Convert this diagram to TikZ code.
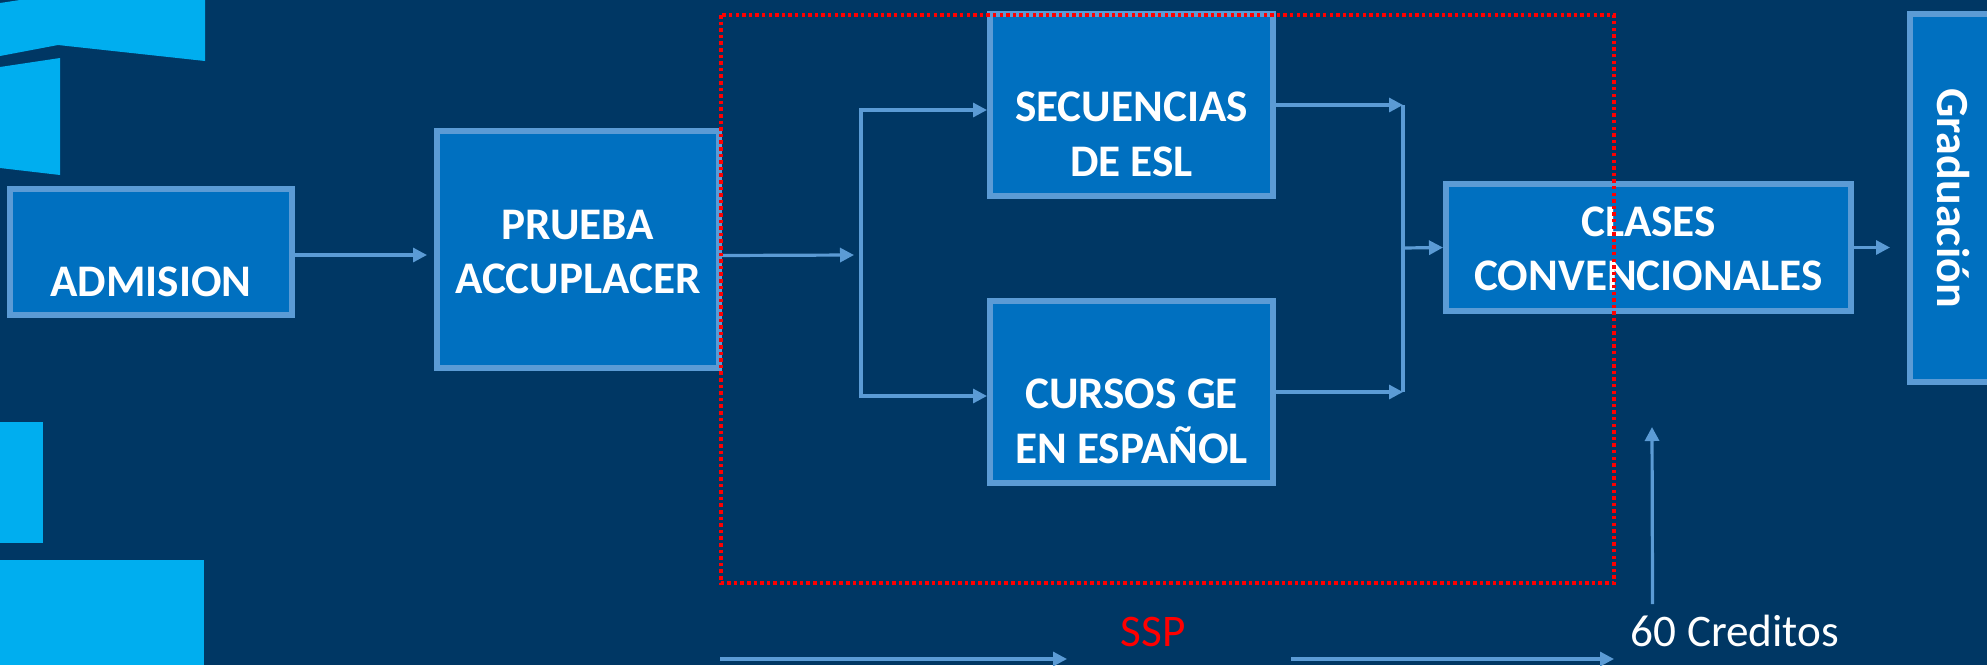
\documentclass[tikz,border=0pt]{standalone}
\usepackage{fontspec}
\setmainfont{Carlito}
\usetikzlibrary{arrows.meta,calc}
\definecolor{bgnavy}{HTML}{003764}
\definecolor{boxfill}{HTML}{0070C0}
\definecolor{boxline}{HTML}{5B9BD5}
\definecolor{cyanshape}{HTML}{00AEEF}
\newcommand{\oneline}[2]{\hbox to 0pt{\hss\raisebox{\dimexpr#1-0.5pt\relax}[0pt][0pt]{#2}\hss}}
\tikzset{
  x=0.5pt,y=-0.5pt,
  flowbox/.style={draw=boxline,fill=boxfill,line width=3pt,inner sep=0pt,text=white,
    font=\fontsize{22.6}{24}\selectfont\bfseries},
  conn/.style={draw=boxline,line width=1.6pt},
  tipped/.style={conn,-{Triangle[length=7pt,width=7pt]}},
  bothtip/.style={conn,{Triangle[length=7pt,width=7pt]}-{Triangle[length=7pt,width=7pt]}},
  caption/.style={inner sep=0pt,anchor=base,font=\fontsize{22.6}{24}\selectfont},
  deco/.style={fill=cyanshape,draw=none}
}
\begin{document}
\begin{tikzpicture}
\useasboundingbox (0,0) rectangle (1987,665);
\clip (0,0) rectangle (1987,665);
\fill[bgnavy] (0,0) rectangle (1987,665);
% left decorative shapes
\fill[deco] (0,3) -- (20,0) -- (205,0) -- (205,61) -- (58,45) -- (0,56) -- cycle;
\fill[deco] (0,67) -- (60,58) -- (60,175) -- (0,168) -- cycle;
\fill[deco] (0,422) rectangle (43,543);
\fill[deco] (0,560) rectangle (204,665);
% boxes
\node[flowbox,minimum width=141pt,minimum height=63pt] (admision) at (151,252) {\oneline{-21.5pt}{ADMISION}};
\node[flowbox,minimum width=141pt,minimum height=118.5pt] (prueba) at (578,249.5) {\oneline{5.75pt}{PRUEBA}\oneline{-21.25pt}{ACCUPLACER}};
\node[flowbox,minimum width=141.5pt,minimum height=91pt] (secuencias) at (1131.5,105) {\oneline{-7.5pt}{SECUENCIAS}\oneline{-35pt}{DE ESL}};
\node[flowbox,minimum width=141.5pt,minimum height=91pt] (cursos) at (1131.5,392) {\oneline{-7.5pt}{CURSOS GE}\oneline{-35pt}{EN ESPAÑOL}};
\node[flowbox,minimum width=202.5pt,minimum height=63.5pt] (clases) at (1648.5,247.5) {\oneline{6.25pt}{CLASES}\oneline{-20.75pt}{CONVENCIONALES}};
\node[flowbox,rotate=-90,minimum width=184pt,minimum height=45pt,font=\fontsize{23}{24}\selectfont\bfseries] (graduacion) at (1955,198) {\oneline{-8.5pt}{Graduación}};
% captions
\node[caption,text=red] (ssp) at (1153,646) {SSP};
\node[caption,text=white] (credits) at (1735,646) {60 Creditos};
% junction coordinates
\coordinate (split) at (861,255);
\coordinate (merge) at (1403,248);
\coordinate (creditup) at (1652,427);
\coordinate (sspa) at (720,659);
\coordinate (sspb) at (1067,659);
\coordinate (sspc) at (1291,659);
\coordinate (sspd) at (1614,659);
% connectors
\draw[tipped] ([yshift=-1.5pt]admision.east) -- ([xshift=-3.5pt,yshift=-2.75pt]prueba.west);
\draw[tipped] ([yshift=-3pt]prueba.east) -- ([xshift=-3.5pt]split);
\draw[bothtip] ([yshift=-2.5pt]secuencias.west) -- ([yshift=-2.5pt]secuencias.west -| split) -- ([yshift=-2pt]cursos.west -| split) -- ([yshift=-2pt]cursos.west);
\draw[tipped] (secuencias.east) -- (secuencias.east -| merge);
\draw[tipped] (cursos.east) -- (cursos.east -| merge);
\draw[conn] (secuencias.east -| merge) -- (cursos.east -| merge);
\draw[tipped] (merge) -- (clases.west);
\draw[tipped] (clases.east) -- ([xshift=18pt]clases.east);
\draw[tipped] ([xshift=11pt,yshift=5pt]credits.north west) -- (creditup);
\draw[tipped] (sspa) -- (sspb);
\draw[tipped] (sspc) -- (sspd);
% red dotted frame
\draw[red,line width=1.75pt,dash pattern=on 1.75pt off 1.55pt] (721,15) rectangle (1614,583);
\end{tikzpicture}
\end{document}
